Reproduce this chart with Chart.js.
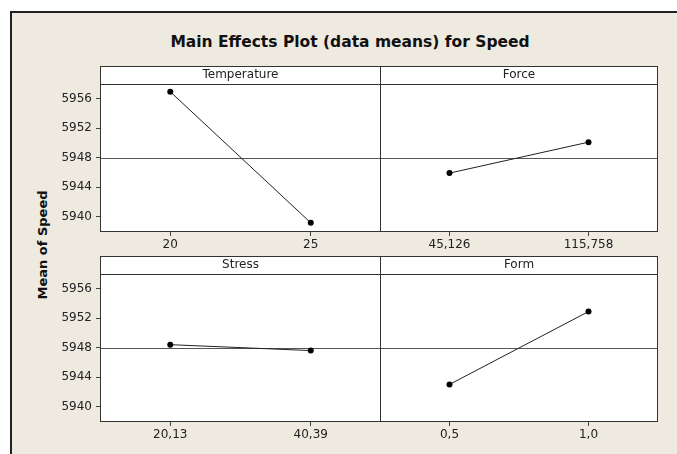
<!DOCTYPE html>
<html>
<head>
<meta charset="utf-8">
<script src="https://cdn.jsdelivr.net/npm/chart.js@4.4.0/dist/chart.umd.min.js"></script>
<style>
  body { margin: 0; background: #fff; width: 677px; height: 454px; overflow: hidden; position: relative; }
  #frame { position: absolute; left: 10px; top: 11px; width: 680px; height: 460px; background: #eeeae0;
           border-left: 2px solid #222; border-top: 2px solid #222; }
  #title { position: absolute; left: 0; width: 700px; top: 33px; text-align: center;
           font: bold 15.5px "DejaVu Sans", sans-serif; color: #111; }
  #ylabel { position: absolute; left: 42px; top: 245px; transform: translate(-50%, -50%) rotate(-90deg);
            font: bold 13px "DejaVu Sans", sans-serif; color: #111; white-space: nowrap; }
  canvas { position: absolute; }
</style>
</head>
<body>
<div id="frame"></div>
<div id="title">Main Effects Plot (data means) for Speed</div>
<div id="ylabel">Mean of Speed</div>
<canvas id="c1" width="360" height="196" style="left:30px;top:62px"></canvas>
<canvas id="c2" width="298" height="196" style="left:370px;top:62px"></canvas>
<canvas id="c3" width="360" height="196" style="left:30px;top:252px"></canvas>
<canvas id="c4" width="298" height="196" style="left:370px;top:252px"></canvas>
<script>
// factor levels and means
var tempLevels = ['20', '25'];
var tempMeans = [5956.95, 5939.15];
var forceLevels = ['45,126', '115,758'];
var forceMeans = [5945.9, 5950.1];
var stressLevels = ['20,13', '40,39'];
var stressMeans = [5948.4, 5947.6];
var formLevels = ['0,5', '1,0'];
var formMeans = [5943.0, 5952.9];

var yTicks = [5940, 5944, 5948, 5952, 5956];
var grandMean = 5948.0;
var yMin = 5937.9, yMax = 5958.0;

var FONT = '"DejaVu Sans", sans-serif';

// header strip, white plot area, mean line and frame of each panel
var panelPlugin = {
  id: 'panel',
  beforeDraw: function (chart, args, opts) {
    var a = chart.chartArea, ctx = chart.ctx;
    ctx.save();
    ctx.fillStyle = '#fff';
    ctx.fillRect(a.left, a.top, a.right - a.left, a.bottom - a.top);
    ctx.fillRect(a.left, a.top - 18, a.right - a.left, 18);
    ctx.strokeStyle = '#333';
    ctx.lineWidth = 1;
    ctx.strokeRect(a.left + 0.5, a.top - 17.5, a.right - a.left - 1, 18);
    ctx.fillStyle = '#222';
    ctx.font = '12px ' + FONT;
    ctx.textAlign = 'center';
    ctx.textBaseline = 'middle';
    ctx.fillText(opts.title, (a.left + a.right) / 2, a.top - 9);
    ctx.restore();
  },
  beforeDatasetsDraw: function (chart) {
    var a = chart.chartArea, ctx = chart.ctx;
    var y = Math.round(chart.scales.y.getPixelForValue(grandMean)) + 0.5;
    ctx.save();
    ctx.strokeStyle = '#555';
    ctx.lineWidth = 1;
    ctx.beginPath();
    ctx.moveTo(a.left, y);
    ctx.lineTo(a.right, y);
    ctx.stroke();
    ctx.restore();
  },
  afterDraw: function (chart) {
    var a = chart.chartArea, ctx = chart.ctx;
    ctx.save();
    ctx.strokeStyle = '#333';
    ctx.lineWidth = 1;
    ctx.strokeRect(a.left + 0.5, a.top + 0.5, a.right - a.left - 1, a.bottom - a.top - 1);
    ctx.restore();
  }
};

function drawPanel(id, title, levels, means, showY) {
  var ctx = document.getElementById(id).getContext('2d');
  return new Chart(ctx, {
    type: 'line',
    data: {
      labels: levels,
      datasets: [{
        data: means,
        borderColor: '#222',
        backgroundColor: '#000',
        borderWidth: 1,
        pointRadius: 3,
        pointBorderWidth: 0
      }]
    },
    options: {
      responsive: false,
      animation: false,
      devicePixelRatio: 1,
      // left panels end one pixel later so the shared border is a single line
      layout: { padding: { left: 10, right: showY ? 9 : 10, top: 22, bottom: 0 } },
      plugins: {
        legend: { display: false },
        tooltip: { enabled: false },
        panel: { title: title }
      },
      scales: {
        x: {
          offset: true,
          grid: { offset: false, drawOnChartArea: false, drawTicks: true, tickLength: 4, color: '#444' },
          border: { display: false },
          ticks: { color: '#222', font: { family: FONT, size: 12 }, padding: 2, maxRotation: 0 },
          afterFit: function (s) { s.height = 26; }
        },
        y: {
          display: showY,
          min: yMin,
          max: yMax,
          afterBuildTicks: function (s) { s.ticks = yTicks.map(function (v) { return { value: v }; }); },
          grid: { drawOnChartArea: false, drawTicks: true, tickLength: 4, color: '#444' },
          border: { display: false },
          ticks: {
            color: '#222', font: { family: FONT, size: 12 }, padding: 4,
            callback: function (v) { return String(v); }
          },
          afterFit: function (s) { s.width = showY ? 60 : 0; }
        }
      }
    },
    plugins: [panelPlugin]
  });
}

drawPanel('c1', 'Temperature', tempLevels, tempMeans, true);
drawPanel('c2', 'Force', forceLevels, forceMeans, false);
drawPanel('c3', 'Stress', stressLevels, stressMeans, true);
drawPanel('c4', 'Form', formLevels, formMeans, false);
</script>
</body>
</html>
